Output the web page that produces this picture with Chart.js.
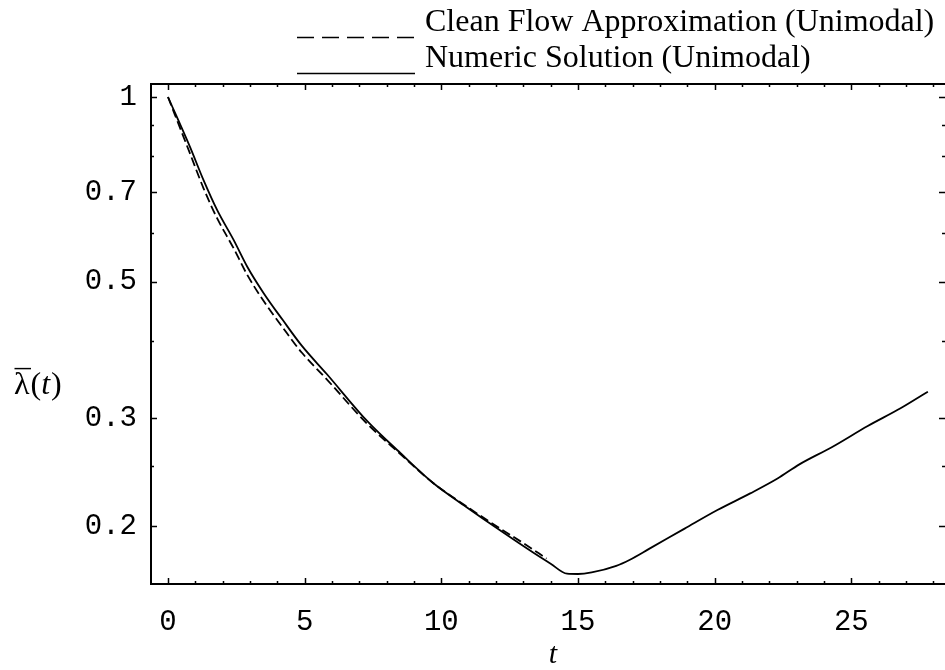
<!DOCTYPE html>
<html>
<head>
<meta charset="utf-8">
<script src="https://cdn.jsdelivr.net/npm/chart.js@4"></script>
<style>
html,body{margin:0;padding:0;background:#fff;}
#wrap{width:945px;height:670px;position:relative;}
</style>
</head>
<body>
<div id="wrap"><canvas id="c" width="945" height="670"></canvas></div>
<script>
// ---- data ----
const seriesLabels = ['Clean Flow Approximation (Unimodal)', 'Numeric Solution (Unimodal)'];

const cleanT = [0, 0.8, 1.3, 1.8, 2.4, 2.9, 3.5, 4.2, 4.9, 5.8, 7.3, 8.5, 9.7, 10.9, 12.2, 13.0, 13.85];
const cleanV = [1.0, 0.81, 0.71, 0.634, 0.567, 0.513, 0.465, 0.421, 0.383, 0.347, 0.293, 0.262, 0.235, 0.2155, 0.1975, 0.1875, 0.177];

const numericT = [0, 0.8, 1.3, 1.8, 2.4, 2.9, 3.5, 4.2, 4.9, 5.8, 7.3, 8.5, 9.7, 10.9, 12.2, 13.4, 14.0, 14.6, 15.0, 15.5, 16.4, 16.9, 17.6, 18.9, 20.1, 21.3, 22.3, 23.1, 24.3, 25.6, 26.8, 27.8];
const numericV = [1.0, 0.83, 0.732, 0.654, 0.585, 0.529, 0.479, 0.433, 0.393, 0.354, 0.296, 0.263, 0.235, 0.215, 0.196, 0.1805, 0.1736, 0.1672, 0.1670, 0.1680, 0.1722, 0.1762, 0.1835, 0.198, 0.2123, 0.226, 0.239, 0.252, 0.269, 0.291, 0.311, 0.331];

const xTickValues = [0, 5, 10, 15, 20, 25];
const xTickLabels = ['0', '5', '10', '15', '20', '25'];
const xMinorTicks = [1, 2, 3, 4, 6, 7, 8, 9, 11, 12, 13, 14, 16, 17, 18, 19, 21, 22, 23, 24, 26, 27, 28];
const yTickValues = [0.2, 0.3, 0.5, 0.7, 1];
const yTickLabels = ['0.2', '0.3', '0.5', '0.7', '1'];
const yMinorTicks = [0.25, 0.4, 0.6, 0.8, 0.9];

const xTitle = 't';
const yTitleSymbol = 'λ';
const yTitleBar = '\u00AF';

// ---- chart ----
const toPts = (ts, vs) => ts.map((t, i) => ({x: t, y: vs[i]}));

const framePlugin = {
  id: 'frame',
  afterDraw(chart) {
    const {ctx, chartArea: a, scales: {x, y}} = chart;
    ctx.save();
    ctx.setLineDash([]);
    ctx.strokeStyle = '#000';
    ctx.lineWidth = 2;
    ctx.beginPath();
    ctx.moveTo(a.right, a.top);
    ctx.lineTo(a.left, a.top);
    ctx.lineTo(a.left, a.bottom);
    ctx.lineTo(a.right, a.bottom);
    ctx.stroke();

    ctx.lineWidth = 1.5;
    ctx.beginPath();
    const xt = (v, len) => {
      const px = Math.round(x.getPixelForValue(v)) + 0.5;
      ctx.moveTo(px, a.bottom); ctx.lineTo(px, a.bottom - len);
      ctx.moveTo(px, a.top); ctx.lineTo(px, a.top + len);
    };
    const yt = (v, len) => {
      const py = Math.round(y.getPixelForValue(v)) + 0.5;
      ctx.moveTo(a.left, py); ctx.lineTo(a.left + len, py);
      ctx.moveTo(a.right, py); ctx.lineTo(a.right - len, py);
    };
    xTickValues.forEach(v => xt(v, 6));
    xMinorTicks.forEach(v => xt(v, 3));
    yTickValues.forEach(v => yt(v, 6));
    yMinorTicks.forEach(v => yt(v, 3));
    ctx.stroke();

    // axis titles
    ctx.fillStyle = '#000';
    ctx.textBaseline = 'middle';
    ctx.textAlign = 'left';
    ctx.font = '32px "Liberation Serif"';
    let tx = 14;
    const ty = 386;
    ctx.fillText(yTitleSymbol, tx, ty);
    const lw = ctx.measureText(yTitleSymbol).width;
    ctx.textAlign = 'center';
    ctx.fillText(yTitleBar, tx + lw / 2 + 1, ty - 2);
    ctx.textAlign = 'left';
    tx += lw + 1;
    ctx.fillText('(', tx, ty);
    tx += ctx.measureText('(').width;
    ctx.font = 'italic 32px "Liberation Serif"';
    ctx.fillText('t', tx, ty);
    tx += ctx.measureText('t').width + 1;
    ctx.font = '32px "Liberation Serif"';
    ctx.fillText(')', tx, ty);

    ctx.textAlign = 'center';
    ctx.font = 'italic 30px "Liberation Serif"';
    ctx.fillText(xTitle, 553, 655);

    // legend
    const ds = chart.data.datasets;
    const rows = [{d: ds[0], base: 31, line: 37, dash: [17, 8]}, {d: ds[1], base: 67, line: 73, dash: []}];
    rows.forEach(r => {
      ctx.lineWidth = 1.5;
      ctx.setLineDash(r.dash);
      ctx.beginPath();
      ctx.moveTo(297, r.line + 0.5);
      ctx.lineTo(415, r.line + 0.5);
      ctx.stroke();
      ctx.setLineDash([]);
      ctx.textAlign = 'left';
      ctx.textBaseline = 'alphabetic';
      ctx.font = '32px "Liberation Serif"';
      ctx.fillText(r.d.label, 425, r.base);
    });
    ctx.restore();
  }
};

new Chart(document.getElementById('c'), {
  type: 'scatter',
  data: {
    datasets: [
      {
        label: seriesLabels[0],
        data: toPts(cleanT, cleanV),
        showLine: true,
        borderColor: '#000',
        borderWidth: 1.8,
        borderDash: [9, 4],
        pointRadius: 0,
        fill: false,
        cubicInterpolationMode: 'monotone'
      },
      {
        label: seriesLabels[1],
        data: toPts(numericT, numericV),
        showLine: true,
        borderColor: '#000',
        borderWidth: 1.8,
        pointRadius: 0,
        fill: false,
        cubicInterpolationMode: 'monotone'
      }
    ]
  },
  options: {
    responsive: false,
    animation: false,
    devicePixelRatio: 1,
    layout: {padding: {top: 84, left: 0, right: 0, bottom: 0}},
    plugins: {legend: {display: false}, tooltip: {enabled: false}},
    scales: {
      x: {
        type: 'linear',
        bounds: 'data',
        min: -0.622,
        max: 28.427,
        afterBuildTicks: s => { s.ticks = xTickValues.map(v => ({value: v})); },
        afterFit: s => { s.height = 86; },
        grid: {display: false, drawTicks: false},
        border: {display: false},
        ticks: {
          autoSkip: false,
          maxRotation: 0,
          padding: 21,
          color: '#000',
          font: {family: 'Liberation Mono', size: 29},
          callback: v => xTickLabels[xTickValues.indexOf(v)]
        }
      },
      y: {
        type: 'logarithmic',
        bounds: 'data',
        min: 0.16086,
        max: 1.05,
        afterBuildTicks: s => { s.ticks = yTickValues.map(v => ({value: v})); },
        afterFit: s => { s.width = 151; },
        grid: {display: false, drawTicks: false},
        border: {display: false},
        ticks: {
          autoSkip: false,
          padding: 14,
          color: '#000',
          font: {family: 'Liberation Mono', size: 29},
          callback: v => yTickLabels[yTickValues.indexOf(v)]
        }
      }
    }
  },
  plugins: [framePlugin]
});
</script>
</body>
</html>
